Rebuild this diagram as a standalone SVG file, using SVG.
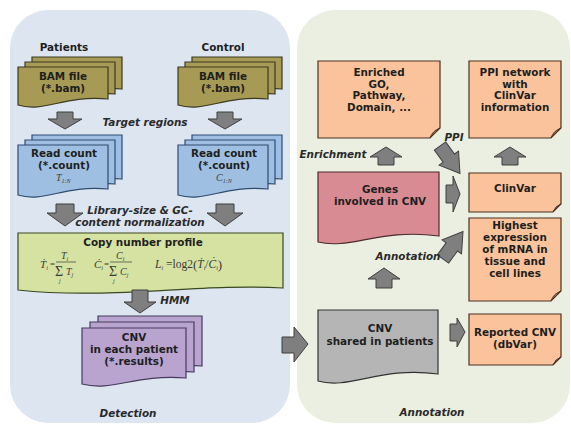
<svg xmlns="http://www.w3.org/2000/svg" xmlns:xlink="http://www.w3.org/1999/xlink" width="571" height="425" viewBox="0 0 571 425">
<style>
.t{font-family:"DejaVu Sans","Liberation Sans",sans-serif;font-weight:bold;font-size:10.4px;fill:#1e1e1e;text-anchor:middle}
.lab{font-family:"DejaVu Sans","Liberation Sans",sans-serif;font-weight:bold;font-style:italic;font-size:10.4px;fill:#2a2a2a;text-anchor:middle}
.m{font-family:"Liberation Serif","DejaVu Serif",serif;font-style:italic;fill:#3a3a3a}
.arr{fill:#7f7f7f;stroke:#3f3f3f;stroke-width:1;stroke-linejoin:miter}
.bam{fill:#a69a55;stroke:#3c3920;stroke-width:1.2}
.rc{fill:#9fbfe2;stroke:#2e4c6e;stroke-width:1.2}
.cnv{fill:#b8a4cf;stroke:#463a5c;stroke-width:1.2}
.or{fill:#fbc39b;stroke:#4a3020;stroke-width:1.2}
.fold{fill:#e3a67c;stroke:#4a3020;stroke-width:0.8}
</style>
<defs>
<path id="bamDoc" d="M0,0 H90 V32 C45,28 27,46 0,38 Z"/>
<path id="rcDoc" d="M0,0 H90 V44 C45,40 27,58 0,50 Z"/>
<path id="cnvDoc" d="M0,0 H104 V50 C52,46 31,64 0,56 Z"/>
</defs>
<rect width="571" height="425" fill="#ffffff"/>
<g id="panel-detection">
<rect x="10" y="10" width="280" height="413" rx="38" ry="38" fill="#dce5f0"/>
<text class="lab" x="128" y="417">Detection</text>
</g>
<g id="panel-annotation">
<rect x="297" y="10" width="273" height="413" rx="38" ry="38" fill="#ebefe1"/>
<text class="lab" x="432" y="416">Annotation</text>
</g>

<g id="patients-label"><text class="t" x="64" y="51">Patients</text></g>
<g id="control-label"><text class="t" x="223" y="51">Control</text></g>

<g id="bam-patients">
<use href="#bamDoc" class="bam" transform="translate(32,57)"/>
<use href="#bamDoc" class="bam" transform="translate(25,62)"/>
<use href="#bamDoc" class="bam" transform="translate(18,67)"/>
<text class="t" x="63" y="80">BAM file</text>
<text class="t" x="63" y="92">(*.bam)</text>
</g>
<g id="bam-control">
<use href="#bamDoc" class="bam" transform="translate(192,57)"/>
<use href="#bamDoc" class="bam" transform="translate(185,62)"/>
<use href="#bamDoc" class="bam" transform="translate(178,67)"/>
<text class="t" x="223" y="80">BAM file</text>
<text class="t" x="223" y="92">(*.bam)</text>
</g>

<g id="read-patients">
<use href="#rcDoc" class="rc" transform="translate(32,135)"/>
<use href="#rcDoc" class="rc" transform="translate(25,140)"/>
<use href="#rcDoc" class="rc" transform="translate(18,145)"/>
<text class="t" x="64" y="157">Read count</text>
<text class="t" x="64" y="169">(*.count)</text>
<text class="m" x="56" y="181" font-size="10" fill="#4a6a90">T<tspan font-size="6" dy="2">1:N</tspan></text>
</g>
<g id="read-control">
<use href="#rcDoc" class="rc" transform="translate(192,135)"/>
<use href="#rcDoc" class="rc" transform="translate(185,140)"/>
<use href="#rcDoc" class="rc" transform="translate(178,145)"/>
<text class="t" x="224" y="157">Read count</text>
<text class="t" x="224" y="169">(*.count)</text>
<text class="m" x="216" y="181" font-size="10" fill="#4a6a90">C<tspan font-size="6" dy="2">1:N</tspan></text>
</g>

<g id="copy-number">
<path d="M18,233 H283 V288 C200,283 110,300 18,290 Z" fill="#d6e2a2" stroke="#3a4820" stroke-width="1.2"/>
<text class="t" x="143" y="246">Copy number profile</text>
<g class="m">
<text x="40" y="268" font-size="11">Ṫ<tspan font-size="6" dy="2">i</tspan></text>
<text x="50" y="267" font-size="9" font-style="normal">=</text>
<text x="61" y="259" font-size="10">T<tspan font-size="6" dy="2">i</tspan></text>
<line x1="56" y1="262" x2="76" y2="262" stroke="#3a3a3a" stroke-width="0.7"/>
<text x="55" y="276" font-size="14" font-style="normal">Σ</text>
<text x="66" y="275" font-size="10">T<tspan font-size="6" dy="2">j</tspan></text>
<text x="59" y="283" font-size="6">j</text>

<text x="94" y="268" font-size="11">Ċ<tspan font-size="6" dy="2">i</tspan></text>
<text x="104" y="267" font-size="9" font-style="normal">=</text>
<text x="116" y="259" font-size="10">C<tspan font-size="6" dy="2">i</tspan></text>
<line x1="110" y1="262" x2="132" y2="262" stroke="#3a3a3a" stroke-width="0.7"/>
<text x="109" y="276" font-size="14" font-style="normal">Σ</text>
<text x="120" y="275" font-size="10">C<tspan font-size="6" dy="2">j</tspan></text>
<text x="113" y="283" font-size="6">j</text>

<text x="155" y="268" font-size="11.5">L<tspan font-size="6" dy="2">i</tspan><tspan dy="-2" font-style="normal"> =log2</tspan><tspan font-style="normal" font-size="13" dy="1">(</tspan><tspan dy="-1">Ṫ</tspan><tspan font-size="6" dy="2">i</tspan><tspan dy="-2" font-style="normal">/</tspan><tspan>Ċ</tspan><tspan font-size="6" dy="2">i</tspan><tspan font-style="normal" font-size="13" dy="-1">)</tspan></text>
</g>
</g>

<g id="cnv-each">
<use href="#cnvDoc" class="cnv" transform="translate(98,316)"/>
<use href="#cnvDoc" class="cnv" transform="translate(90,322)"/>
<use href="#cnvDoc" class="cnv" transform="translate(82,328)"/>
<text class="t" x="134" y="341">CNV</text>
<text class="t" x="134" y="353">in each patient</text>
<text class="t" x="134" y="365">(*.results)</text>
</g>

<g id="enriched">
<path class="or" d="M318,61 H440 V128 L430,138 H318 Z"/>
<path class="fold" d="M430,138 Q432,131 440,128 Q434,130 430,138 Z"/>
<text class="t" x="379" y="76">Enriched</text>
<text class="t" x="379" y="88">GO,</text>
<text class="t" x="379" y="99">Pathway,</text>
<text class="t" x="379" y="111">Domain, ...</text>
</g>
<g id="ppi-network">
<path class="or" d="M469,61 H561 V128 L551,138 H469 Z"/>
<path class="fold" d="M551,138 Q553,131 561,128 Q555,130 551,138 Z"/>
<text class="t" x="515" y="76">PPI network</text>
<text class="t" x="515" y="88">with</text>
<text class="t" x="515" y="99">ClinVar</text>
<text class="t" x="515" y="111">information</text>
</g>
<g id="genes">
<path d="M318,172 H439 V236 C380,228 350,250 318,242 Z" fill="#d88b92" stroke="#4a2a2e" stroke-width="1.2"/>
<text class="t" x="380" y="193">Genes</text>
<text class="t" x="380" y="205">involved in CNV</text>
</g>
<g id="clinvar">
<path class="or" d="M469,173 H561 V204 L553,212 H469 Z"/>
<path class="fold" d="M553,212 Q555,206 561,204 Q556,206 553,212 Z"/>
<text class="t" x="515" y="192">ClinVar</text>
</g>
<g id="highest">
<path class="or" d="M469,218 H561 V291 L551,301 H469 Z"/>
<path class="fold" d="M551,301 Q553,294 561,291 Q555,293 551,301 Z"/>
<text class="t" x="515" y="229">Highest</text>
<text class="t" x="515" y="241">expression</text>
<text class="t" x="515" y="253">of mRNA in</text>
<text class="t" x="515" y="265">tissue and</text>
<text class="t" x="515" y="277">cell lines</text>
</g>
<g id="cnv-shared">
<path d="M318,310 H438 V374 C380,366 350,390 318,381 Z" fill="#b5b5b5" stroke="#333333" stroke-width="1.2"/>
<text class="t" x="380" y="332">CNV</text>
<text class="t" x="380" y="345">shared in patients</text>
</g>
<g id="reported">
<path class="or" d="M469,314 H561 V357 L553,365 H469 Z"/>
<path class="fold" d="M553,365 Q555,359 561,357 Q556,359 553,365 Z"/>
<text class="t" x="515" y="336">Reported CNV</text>
<text class="t" x="515" y="348">(dbVar)</text>
</g>

<g id="connectors">
<polygon class="arr" points="57,112 73,112 73,119 82,119 65,129 48,119 57,119"/>
<polygon class="arr" points="217,112 233,112 233,119 242,119 225,129 208,119 217,119"/>
<polygon class="arr" points="56,204 74,204 74,213 83,213 65,226 47,213 56,213"/>
<polygon class="arr" points="216,204 234,204 234,213 243,213 225,226 207,213 216,213"/>
<polygon class="arr" points="132,290 148,290 148,302 156,302 140,313 124,302 132,302"/>
<polygon class="arr" points="282,337 294,337 294,327 308,344 294,362 294,353 282,353"/>
<polygon class="arr" points="378,165 394,165 394,157 402,157 386,147 370,157 378,157"/>
<polygon class="arr" points="502,165 518,165 518,157 526,157 510,147 494,157 502,157"/>
<polygon class="arr" points="376,288 392,288 392,279 400,279 384,268 368,279 376,279"/>
<polygon class="arr" points="446,185 453,185 453,176 460,194 453,212 453,203 446,203"/>
<polygon class="arr" points="450,324 457,324 457,318 465,332 457,347 457,341 450,341"/>
<polygon class="arr" transform="translate(440,146) rotate(54)" points="0,-7 15,-7 15,-12 34,0 15,12 15,7 0,7"/>
<polygon class="arr" transform="translate(443,259) rotate(-54)" points="0,-7 15,-7 15,-12 34,0 15,12 15,7 0,7"/>
<text class="lab" x="145" y="126">Target regions</text>
<text class="lab" x="140" y="214">Library-size &amp; GC-</text>
<text class="lab" x="140" y="226">content normalization</text>
<text class="lab" x="175" y="304">HMM</text>
<text class="lab" x="454" y="141">PPI</text>
<text class="lab" x="333" y="158">Enrichment</text>
<text class="lab" x="408" y="260">Annotation</text>
</g>
</svg>
